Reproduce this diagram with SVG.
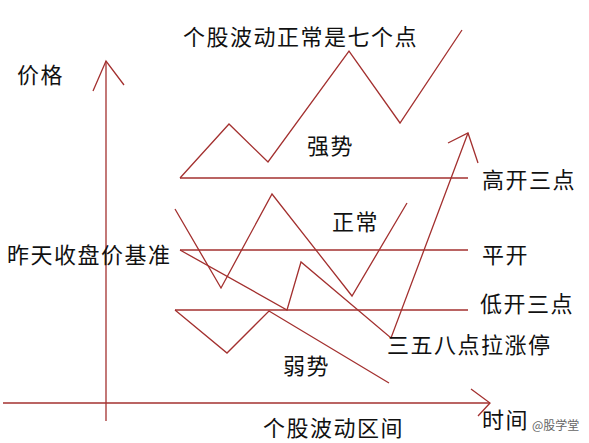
<svg xmlns="http://www.w3.org/2000/svg" width="589" height="443" viewBox="0 0 589 443">
<style>
.l{fill:none;stroke:#a3302f;stroke-width:1.3;stroke-linejoin:miter}
.t{font-family:"Noto Sans CJK SC","Noto Sans",sans-serif;font-size:22px;fill:#111;dominant-baseline:central;letter-spacing:1.5px}
.w{font-family:"Noto Sans CJK SC","Noto Sans",sans-serif;font-size:12px;fill:#666;dominant-baseline:central}
</style>
<rect width="589" height="443" fill="#fff"/>
<g id="connectors">
<g id="axes">
<line class="l" x1="106" y1="61" x2="106" y2="421"/>
<polyline class="l" points="93,91 106,61 124,85"/>
<line class="l" x1="3" y1="403" x2="490" y2="403"/>
<polyline class="l" points="471,389 490,403 478,416"/>
</g>
<line id="high-open" class="l" x1="180" y1="178" x2="468" y2="178"/>
<line id="flat-open" class="l" x1="180" y1="250" x2="468" y2="250"/>
<line id="low-open" class="l" x1="175" y1="310" x2="468" y2="310"/>
<polyline id="strong" class="l" points="180,178 229,124 268,162 349,51 400,123 462,30"/>
<polyline id="normal" class="l" points="175,209 221,288 272,194 352,296 407,203"/>
<polyline id="weak" class="l" points="175,310 227,353 269,311 389,383"/>
<polyline id="limit-up" class="l" points="180,250 287,310 301,262 391,338 468,133"/>
<polyline class="l" points="448,143 468,133 478,163"/>
</g>
<g id="labels">
<text class="t" x="17" y="73">价格</text>
<text class="t" x="183" y="35" letter-spacing="2px">个股波动正常是七个点</text>
<text class="t" x="307" y="144">强势</text>
<text class="t" x="482" y="178">高开三点</text>
<text class="t" x="332" y="220">正常</text>
<text class="t" x="7" y="253">昨天收盘价基准</text>
<text class="t" x="482" y="253">平开</text>
<text class="t" x="480" y="302">低开三点</text>
<text class="t" x="387" y="343">三五八点拉涨停</text>
<text class="t" x="283" y="364">弱势</text>
<text class="t" x="263" y="426">个股波动区间</text>
<text class="t" x="482" y="418">时间</text>
<text class="w" x="532" y="424">@股学堂</text>
</g>
</svg>
